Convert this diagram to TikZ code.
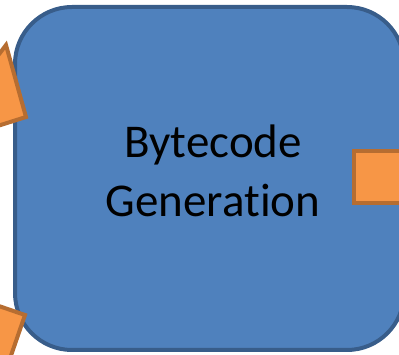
\documentclass[tikz,border=0pt]{standalone}
\usepackage{fontspec}
\setmainfont{Carlito}[Ligatures=NoCommon]
\definecolor{blockfill}{HTML}{4F81BD}
\definecolor{blockline}{HTML}{385D8A}
\definecolor{arrowfill}{HTML}{F79646}
\definecolor{arrowline}{HTML}{B66D31}
\tikzset{
  block/.style={fill=blockfill, draw=blockline, line width=4pt, rounded corners=57pt},
  arrowpart/.style={fill=arrowfill, draw=arrowline, line width=4pt, line join=miter},
  label/.style={anchor=base, text=black, inner sep=0pt, font=\fontsize{47}{59}\selectfont}
}
\begin{document}
\begin{tikzpicture}[x=1pt, y=-1pt]
  \useasboundingbox (0,0) rectangle (399,355);
  \clip (0,0) rectangle (399,355);
  % main processing block
  \draw[block] (15,7) rectangle (404,350);
  \node[label] (line1) at (213,158) {Bytecode};
  \node[label] (line2) at (213,217) {Generation};
  % incoming arrow head at the upper left
  \draw[arrowpart] (6,45) -- (26,117) -- (-72,148) -- cycle;
  % incoming arrow shaft at the lower left
  \draw[arrowpart] (-69.6,282.4) -- (25,315) -- (-1.1,390.7) -- (-95.7,358.1) -- cycle;
  % outgoing arrow shaft at the right
  \draw[arrowpart] (354,151) rectangle (430,203);
\end{tikzpicture}
\end{document}
